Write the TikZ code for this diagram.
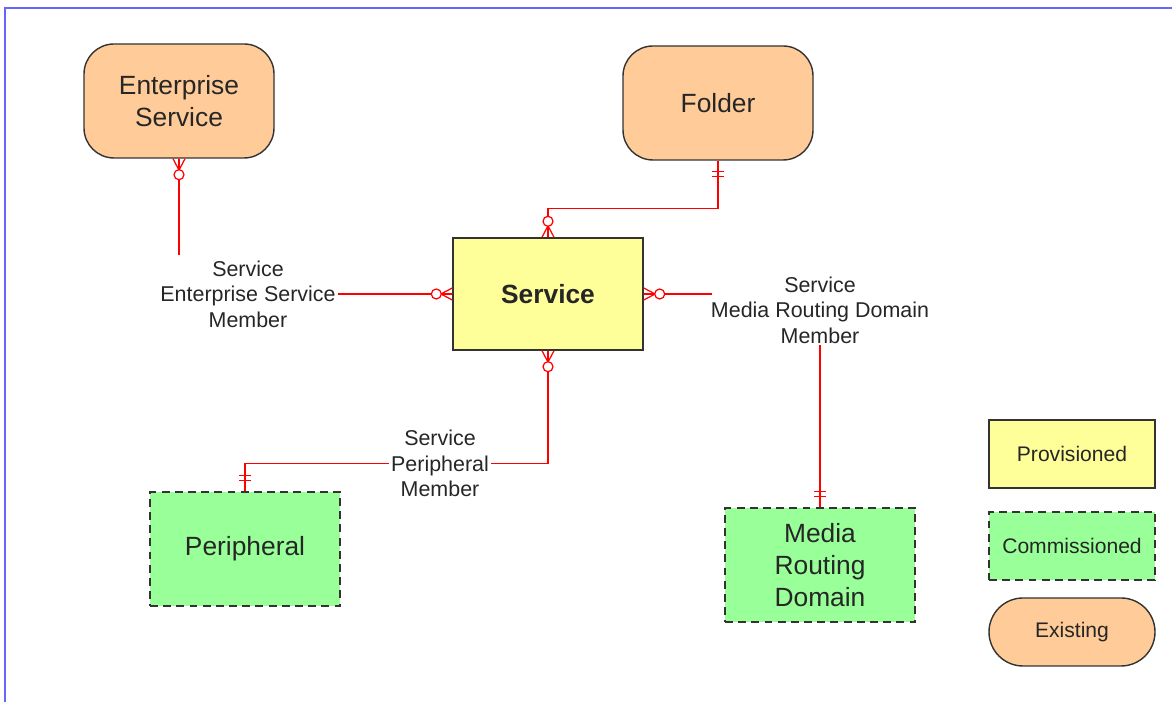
\documentclass[tikz,border=0pt]{standalone}
\usepackage{fontspec}
\setmainfont{Liberation Sans}
\usepackage{tikz}
\usetikzlibrary{positioning}

\definecolor{peach}{HTML}{FFCC99}
\definecolor{lightyellow}{HTML}{FFFF99}
\definecolor{lightgreen}{HTML}{99FF99}
\definecolor{frameblue}{HTML}{6666FF}
\definecolor{edgegray}{HTML}{333333}

\begin{document}
\begin{tikzpicture}[every node/.style={text=black!85},
	entity/.style={draw=edgegray,line width=0.8pt,minimum width=3.8cm,minimum height=2.28cm,align=center,font=\fontsize{15}{18}\selectfont},
	existing/.style={entity,fill=peach,rounded corners=0.6cm},
	provisioned/.style={entity,fill=lightyellow},
	commissioned/.style={entity,fill=lightgreen,dash pattern=on 4.5pt off 3pt},
	legend/.style={draw=edgegray,line width=0.8pt,minimum width=3.32cm,minimum height=1.36cm,font=\fontsize{12}{14}\selectfont},
	member/.style={align=center,inner sep=1pt,font=\fontsize{12.2}{14.5}\selectfont},
	link/.style={draw=red,line width=0.7pt},
	zmany/.pic={
		\draw[link] (0.23,0) -- (0,0.12) (0.23,0) -- (0,0) (0.23,0) -- (0,-0.12);
		\draw[link,fill=white] (0.32,0) circle (0.1);
	},
	oneone/.pic={
		\draw[link] (0.22,-0.12) -- (0.22,0.12) (0.32,-0.12) -- (0.32,0.12);
	}]

		\useasboundingbox (0,0) rectangle (23.44,14.04);
		\draw[frameblue,line width=1.1pt] (0.1,0) -- (0.1,13.88) -- (23.44,13.88);

		%entities
		\node[existing] (es) at (3.58,12.02) {Enterprise\\Service};
		\node[existing] (fold) at (14.36,11.98) {Folder};
		\node[provisioned,minimum height=2.24cm,font=\fontsize{15}{18}\selectfont\bfseries] (svc) at (10.96,8.16) {Service};
		\node[commissioned] (per) at (4.90,3.06) {Peripheral};
		\node[commissioned] (mrd) at (16.40,2.74) {Media\\Routing\\Domain};

		%member labels
		\node[member] (esm) at (4.96,8.16) {Service\\Enterprise Service\\Member};
		\node[member] (mrdm) at (16.40,7.84) {Service\\Media Routing Domain\\Member};
		\node[member] (perm) at (8.80,4.77) {Service\\Peripheral\\Member};
		\coordinate (esend) at (3.58,8.94);
		\coordinate (mrdend) at (14.24,8.16);

		%links
		\draw[link] (es.south) -- (esend);
		\draw[link] (esm.east) -- (svc.west);
		\draw[link] (fold.south) -- ++(0,-0.96) -| (svc.north);
		\draw[link] (svc.east) -- (mrdend);
		\draw[link] (mrdm.south) -- (mrd.north);
		\draw[link] (svc.south) |- (perm.east);
		\draw[link] (perm.west) -| (per.north);

		%ends
		\pic[rotate=-90] at (es.south) {zmany};
		\pic[rotate=180] at (svc.west) {zmany};
		\pic[rotate=90] at (svc.north) {zmany};
		\pic at (svc.east) {zmany};
		\pic[rotate=-90] at (svc.south) {zmany};
		\pic[rotate=-90] at (fold.south) {oneone};
		\pic[rotate=90] at (per.north) {oneone};
		\pic[rotate=90] at (mrd.north) {oneone};

		%legend
		\node[legend,fill=lightyellow] (lprov) at (21.44,4.96) {Provisioned};
		\node[legend,fill=lightgreen,dash pattern=on 4.5pt off 3pt] (lcomm) at (21.44,3.12) {Commissioned};
		\node[legend,fill=peach,rounded corners=0.68cm] (lexist) at (21.44,1.40) {Existing};

\end{tikzpicture}
\end{document}
